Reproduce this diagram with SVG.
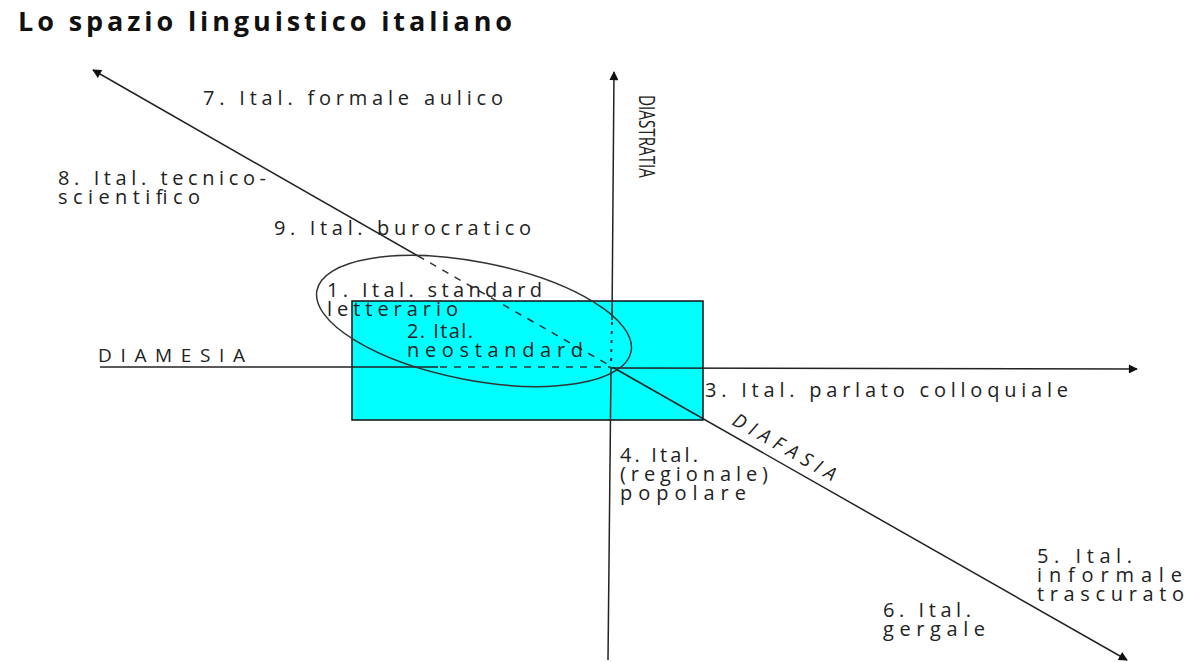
<svg xmlns="http://www.w3.org/2000/svg" width="1195" height="662" viewBox="0 0 1195 662">
  <style>
    .t { font-family: "Open Sans", "DejaVu Sans", sans-serif; font-size: 20px; fill: #222; }
    .title { font-family: "Open Sans", "DejaVu Sans", sans-serif; font-size: 27px; font-weight: bold; fill: #111; }
    .axis { stroke: #222; stroke-width: 1.5; fill: none; }
    .dash { stroke: #333; stroke-width: 1.5; fill: none; stroke-dasharray: 7 7; }
    .dot { stroke: #333; stroke-width: 2; fill: none; stroke-dasharray: 3 6; }
    .axlbl { font-family: "Open Sans", "DejaVu Sans", sans-serif; fill: #222; }
  </style>
  <defs>
    <marker id="arr" viewBox="0 0 10 10" refX="9" refY="5" markerWidth="11" markerHeight="9" markerUnits="userSpaceOnUse" orient="auto">
      <path d="M0,0 L10,5 L0,10 Z" fill="#111"/>
    </marker>
  </defs>
  <rect width="1195" height="662" fill="#fff"/>

  <g id="box">
    <rect x="352" y="301" width="351" height="119" fill="#00ffff" stroke="#111" stroke-width="1.5"/>
  </g>

  <g id="connectors">
    <!-- diagonal axis (DIAFASIA) -->
    <line class="axis" x1="418" y1="256" x2="93" y2="70" marker-end="url(#arr)"/>
    <line class="dash" x1="418" y1="256" x2="614" y2="368"/>
    <line class="axis" x1="614" y1="368" x2="1127" y2="660" marker-end="url(#arr)"/>
    <!-- horizontal axis (DIAMESIA) -->
    <line class="axis" x1="100" y1="367" x2="438" y2="367"/>
    <line class="dash" x1="440" y1="367" x2="611" y2="367"/>
    <line class="axis" x1="611" y1="368" x2="1137" y2="369" marker-end="url(#arr)"/>
    <!-- vertical axis (DIASTRATIA) -->
    <line class="axis" x1="612" y1="320" x2="614" y2="72" marker-end="url(#arr)"/>
    <line class="dot" x1="612" y1="322" x2="611" y2="366"/>
    <line class="axis" x1="611" y1="368" x2="608" y2="660"/>
  </g>

  <g id="ellipse">
    <ellipse cx="474" cy="321" rx="160" ry="59" transform="rotate(11 474 321)" fill="none" stroke="#333" stroke-width="1.5"/>
  </g>

  <g id="title">
    <text class="title" x="18" y="31" textLength="494">Lo spazio linguistico italiano</text>
  </g>

  <g id="axis-labels">
    <text class="axlbl" x="639" y="95" font-size="22" textLength="83" lengthAdjust="spacingAndGlyphs" transform="rotate(90 639 95)">DIASTRATIA</text>
    <text class="axlbl" x="98" y="362" font-size="19" textLength="147">DIAMESIA</text>
    <text class="axlbl" x="731" y="424" font-size="19" font-style="italic" textLength="116" transform="rotate(29.7 731 424)">DIAFASIA</text>
  </g>

  <g id="n1"><text class="t" x="327" y="297" textLength="215">1. Ital. standard</text><text class="t" x="327" y="316" textLength="131">letterario</text></g>
  <g id="n2"><text class="t" x="407" y="338" textLength="66">2. Ital.</text><text class="t" x="407" y="357" textLength="176">neostandard</text></g>
  <g id="n3"><text class="t" x="705" y="397" textLength="363">3. Ital. parlato colloquiale</text></g>
  <g id="n4"><text class="t" x="620" y="462" textLength="78">4. Ital.</text><text class="t" x="620" y="481" textLength="148">(regionale)</text><text class="t" x="620" y="500" textLength="126">popolare</text></g>
  <g id="n5"><text class="t" x="1037" y="563" textLength="95">5. Ital.</text><text class="t" x="1037" y="582" textLength="145">informale</text><text class="t" x="1037" y="601" textLength="147">trascurato</text></g>
  <g id="n6"><text class="t" x="883" y="617" textLength="88">6. Ital.</text><text class="t" x="883" y="636" textLength="102">gergale</text></g>
  <g id="n7"><text class="t" x="203" y="105" textLength="300">7. Ital. formale aulico</text></g>
  <g id="n8"><text class="t" x="58" y="185" textLength="208">8. Ital. tecnico-</text><text class="t" x="58" y="204" textLength="142">scientifico</text></g>
  <g id="n9"><text class="t" x="274" y="235" textLength="257">9. Ital. burocratico</text></g>
</svg>
